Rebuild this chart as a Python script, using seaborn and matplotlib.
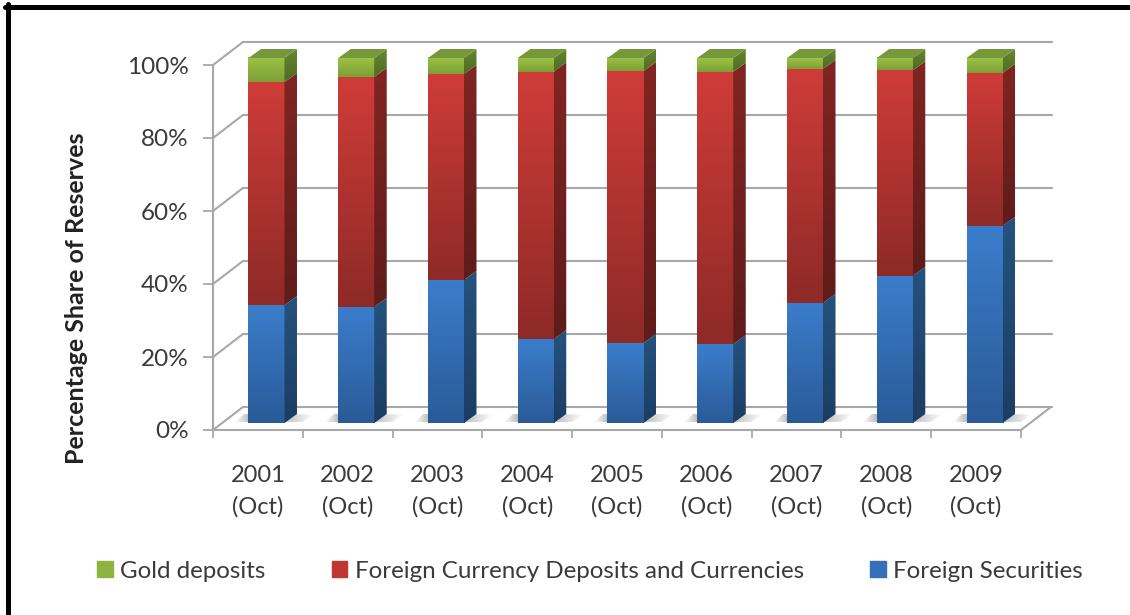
from matplotlib import pyplot as plt
from matplotlib.patches import Patch, Polygon
from matplotlib.colors import to_rgb
from matplotlib.lines import Line2D
import seaborn as sns
import pandas as pd
import numpy as np

# data
years = ['2001', '2002', '2003', '2004', '2005', '2006', '2007', '2008', '2009']
securities = [32.3, 31.8, 39.2, 23.0, 21.9, 21.6, 32.9, 40.3, 54.0]
currency = [61.1, 63.0, 56.4, 73.3, 74.5, 74.6, 64.1, 56.3, 41.9]
gold = [6.6, 5.2, 4.4, 3.7, 3.6, 3.8, 3.0, 3.4, 4.1]
y_ticks = [0, 20, 40, 60, 80, 100]
y_labels = ['0%', '20%', '40%', '60%', '80%', '100%']
tick_labels = [y + '\n(Oct)' for y in years]

W, H = 1130, 615
sns.set_style('white')
plt.rcParams['font.family'] = ['Lato', 'DejaVu Sans']
TXT = '#3a3a3a'
LINE = '#a8a8a8'


def area(x0, x1, ytop, ybot):
    return [x0 / W, 1 - ybot / H, (x1 - x0) / W, (ybot - ytop) / H]


fig = plt.figure(figsize=(W / 100, H / 100), dpi=100)
ax_back = fig.add_axes(area(243, 1052, 42, 407), zorder=0)
ax = fig.add_axes(area(213, 1021, 65, 430), zorder=1)
ax_bar = fig.add_axes(area(221.6, 1029.4, 58, 423), zorder=2)
for a in (ax_back, ax, ax_bar):
    a.patch.set_visible(False)
    a.set_xlim(-0.5, 8.5)
    a.set_ylim(0, 100)

# back wall grid
ax_back.set_yticks(y_ticks)
ax_back.set_xticks([])
ax_back.tick_params(length=0, labelleft=False)
ax_back.grid(True, axis='y', color=LINE, lw=1.5)
for line in ax_back.get_ygridlines():
    line.set_clip_on(False)
sns.despine(ax=ax_back, left=True, bottom=True)

# front frame with ticks
ax.set_yticks(y_ticks, y_labels)
ax.set_xticks(np.arange(-0.5, 9), [''] * 10)
ax.set_xticks(range(9), tick_labels, minor=True)
ax.tick_params(axis='y', left=True, length=7.5, width=1.3, color=LINE, pad=10, labelsize=17.5, labelcolor=TXT)
ax.tick_params(axis='x', which='major', bottom=True, length=6, width=1.3, color=LINE)
ax.tick_params(axis='x', which='minor', bottom=False, length=0, pad=25, labelsize=17, labelcolor=TXT)
for lab in ax.get_xticklabels(minor=True):
    lab.set_linespacing(1.6)
for s in ['top', 'right']:
    ax.spines[s].set_visible(False)
for s in ['left', 'bottom']:
    ax.spines[s].set_color(LINE)
    ax.spines[s].set_linewidth(1.5)
ax.set_ylabel('Percentage Share of Reserves', fontsize=18, fontweight='bold', color='#222222')
ax.yaxis.set_label_coords((88 - 213) / 808, (430 - 298) / 365)

# floor and wall diagonals
wall_dx = 30 / 89.8
wall_dy = 23 / 3.65
for v in y_ticks:
    ax.plot([-0.5, -0.5 + wall_dx], [v, v + wall_dy], color=LINE, lw=1.5, clip_on=False)
ax.plot([8.5, 8.5 + wall_dx], [0, wall_dy], color=LINE, lw=1.5, clip_on=False)

# stacked bars
df = pd.DataFrame({'year': years, 'sec': securities, 'cur': currency, 'gold': gold})
bottoms = np.zeros(len(years))
series = [
    ('sec', '#3b7dcb', '#2a5b98', '#25527f', '#1c3d63'),
    ('cur', '#cf3c38', '#8e2a27', '#802522', '#5f1c1a'),
    ('gold', '#9cc246', '#7d9f36', '#668830', '#4f6a24'),
]
bar_w = 36 / 89.75
depth_x = 12.5 / 89.75
depth_y = 9 / 3.65


def fill(target, extent, c_top, c_bot, clip=None):
    t = np.linspace(0, 1, 64)[:, None, None]
    img = (1 - t) * np.array(to_rgb(c_top)) + t * np.array(to_rgb(c_bot))
    im = target.imshow(img, extent=extent, aspect='auto', zorder=3, interpolation='bilinear')
    if clip is not None:
        clip.set_transform(target.transData)
        im.set_clip_path(clip)
    # images get cut at the axes box otherwise, the side faces stick out above 100
    im.set_clip_box(fig.bbox)
    return im


# soft shadows on the floor
for i in range(len(years)):
    left = i - bar_w / 2
    right = i + bar_w / 2
    h = 2.4
    shapes = [
        (left - 0.15, left, False, [(left - 0.15, 0.3), (left, 0.3), (left, h), (left - 0.05, h)]),
        (right, right + 0.33, True, [(right, 0.3), (right + 0.2, 0.3), (right + 0.33, h), (right, h)]),
    ]
    for x0, x1, rev, outline in shapes:
        rgba = np.zeros((1, 32, 4))
        rgba[..., :3] = to_rgb('#a0a0a0')
        alpha = np.linspace(0, 0.7, 32)
        rgba[..., 3] = alpha[::-1] if rev else alpha
        im = ax_bar.imshow(rgba, extent=(x0, x1, 0, h), aspect='auto', zorder=1, interpolation='bilinear')
        clip = Polygon(outline, transform=ax_bar.transData)
        im.set_clip_path(clip)

for name, top_c, bot_c, side_top, side_bot in series:
    sns.barplot(data=df, x='year', y=name, bottom=bottoms, color=bot_c, width=bar_w,
                saturation=1, linewidth=0, ax=ax_bar, zorder=2)
    vals = df[name].to_numpy()
    for i, v in enumerate(vals):
        lo = bottoms[i]
        hi = lo + v
        x0 = i - bar_w / 2
        x1 = i + bar_w / 2
        fill(ax_bar, (x0, x1, lo, hi), top_c, bot_c)
        side = Polygon([(x1, lo), (x1 + depth_x, lo + depth_y), (x1 + depth_x, hi + depth_y), (x1, hi)])
        fill(ax_bar, (x1, x1 + depth_x, lo, hi + depth_y), side_top, side_bot, side)
        if name == 'gold':
            ax_bar.add_patch(Polygon([(x0, hi), (x1, hi), (x1 + depth_x, hi + depth_y), (x0 + depth_x, hi + depth_y)],
                                     color='#76983a', lw=0, zorder=3, clip_on=False))
    bottoms = bottoms + vals

ax_bar.set_xlim(-0.5, 8.5)
ax_bar.set_ylim(0, 100)
ax_bar.axis('off')

# legend
handles = [Patch(color='#8fb33f', label='Gold deposits'),
           Patch(color='#bf3633', label='Foreign Currency Deposits and Currencies'),
           Patch(color='#3570b8', label='Foreign Securities')]
fig.legend(handles=handles, ncol=3, frameon=False, fontsize=17.4, labelcolor=TXT,
           handlelength=0.64, handleheight=0.64, handletextpad=0.3, columnspacing=2.75,
           loc='center', bbox_to_anchor=(590 / W, 1 - 571 / H))

# frame of the picture, left and top only
fig.add_artist(Line2D([7.5 / W, 7.5 / W], [0, 1 - 4 / H], color='black', lw=3.6))
fig.add_artist(Line2D([5 / W, 1], [1 - 6.5 / H, 1 - 6.5 / H], color='black', lw=3.6))

fig.savefig('out.png', dpi=100)
